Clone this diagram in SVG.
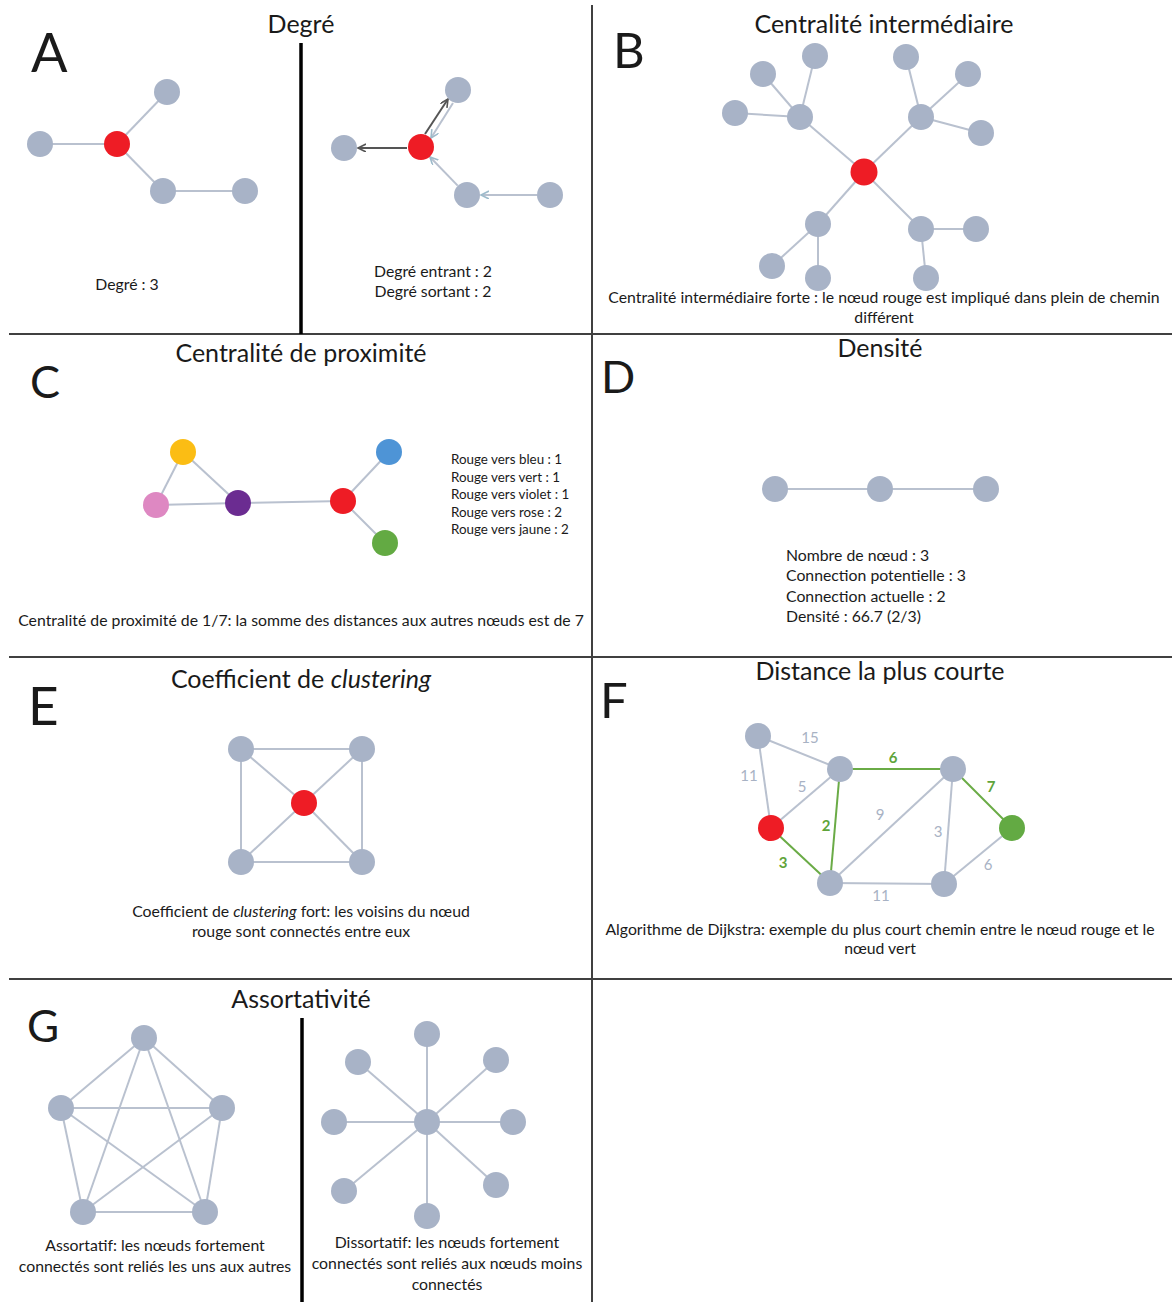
<svg xmlns="http://www.w3.org/2000/svg" width="1172" height="1302" viewBox="0 0 1172 1302">
<style>
text{font-family:Lato,"Liberation Sans",sans-serif;fill:#1a1a1a}
.big{font-weight:400}
.ttl{font-size:25px;text-anchor:middle}
.cap{font-size:15.8px;text-anchor:middle}
.lst{font-size:13.4px}
.lst2{font-size:15.8px}
.n{fill:#A8B3C7}
.red{fill:#EE1C25}
.e{stroke:#B9C1CF;stroke-width:2;fill:none}
.g{stroke:#6AAB46;stroke-width:2;fill:none}
.dk{stroke:#555;stroke-width:2;fill:none}
.div{stroke:#404040;stroke-width:2}
.mid{stroke:#000;stroke-width:3.5}
.wl{font-size:15px;text-anchor:middle;fill:#A8B2C4}
.wg{font-size:15px;text-anchor:middle;fill:#5FA43A;font-weight:bold}
</style>
<defs>
<marker id="ad" markerUnits="userSpaceOnUse" markerWidth="10" markerHeight="10" refX="8" refY="4" orient="auto"><path d="M0,0 L8,4 L0,8" fill="none" stroke="#555" stroke-width="1.6"/></marker>
<marker id="al" markerUnits="userSpaceOnUse" markerWidth="10" markerHeight="10" refX="8" refY="4" orient="auto"><path d="M0,0 L8,4 L0,8" fill="none" stroke="#9DBBCB" stroke-width="1.6"/></marker>
</defs>
<rect width="1172" height="1302" fill="#fff"/>

<g id="grid">
<line class="div" x1="9" y1="334" x2="1172" y2="334"/>
<line class="div" x1="9" y1="657" x2="1172" y2="657"/>
<line class="div" x1="9" y1="979" x2="1172" y2="979"/>
<line class="div" x1="592" y1="5" x2="592" y2="1302"/>
<line class="mid" x1="301" y1="43" x2="301" y2="334"/>
<line class="mid" x1="302" y1="1018" x2="302" y2="1302"/>
</g>

<g id="connectors">
<line class="e" x1="40" y1="144" x2="117" y2="144"/>
<line class="e" x1="117" y1="144" x2="167" y2="92"/>
<line class="e" x1="117" y1="144" x2="163" y2="191"/>
<line class="e" x1="163" y1="191" x2="245" y2="191"/>
<line class="dk" x1="407" y1="148" x2="358" y2="148" marker-end="url(#ad)"/>
<line class="dk" x1="425" y1="134" x2="448" y2="99" marker-end="url(#ad)"/>
<line class="e" x1="453" y1="103" x2="431" y2="138" marker-end="url(#al)"/>
<line class="e" x1="457.7" y1="185.6" x2="430" y2="157" marker-end="url(#al)"/>
<line class="e" x1="537" y1="195" x2="481" y2="195" marker-end="url(#al)"/>
<line class="e" x1="864" y1="172" x2="800" y2="117"/>
<line class="e" x1="864" y1="172" x2="921" y2="117"/>
<line class="e" x1="864" y1="172" x2="818" y2="224"/>
<line class="e" x1="864" y1="172" x2="921" y2="229"/>
<line class="e" x1="800" y1="117" x2="815" y2="56"/>
<line class="e" x1="800" y1="117" x2="763" y2="74"/>
<line class="e" x1="800" y1="117" x2="735" y2="113"/>
<line class="e" x1="921" y1="117" x2="906" y2="57"/>
<line class="e" x1="921" y1="117" x2="968" y2="74"/>
<line class="e" x1="921" y1="117" x2="981" y2="133"/>
<line class="e" x1="818" y1="224" x2="772" y2="266"/>
<line class="e" x1="818" y1="224" x2="818" y2="278"/>
<line class="e" x1="921" y1="229" x2="976" y2="229"/>
<line class="e" x1="921" y1="229" x2="926" y2="278"/>
<line class="e" x1="183" y1="452" x2="156" y2="505"/>
<line class="e" x1="183" y1="452" x2="238" y2="503"/>
<line class="e" x1="156" y1="505" x2="238" y2="503"/>
<line class="e" x1="238" y1="503" x2="343" y2="501"/>
<line class="e" x1="343" y1="501" x2="389" y2="452"/>
<line class="e" x1="343" y1="501" x2="385" y2="543"/>
<line class="e" x1="775" y1="489" x2="880" y2="489"/>
<line class="e" x1="880" y1="489" x2="986" y2="489"/>
<line class="e" x1="241" y1="749" x2="362" y2="749"/>
<line class="e" x1="362" y1="749" x2="362" y2="862"/>
<line class="e" x1="362" y1="862" x2="241" y2="862"/>
<line class="e" x1="241" y1="862" x2="241" y2="749"/>
<line class="e" x1="304" y1="803" x2="241" y2="749"/>
<line class="e" x1="304" y1="803" x2="362" y2="749"/>
<line class="e" x1="304" y1="803" x2="241" y2="862"/>
<line class="e" x1="304" y1="803" x2="362" y2="862"/>
<line class="e" x1="758" y1="736" x2="840" y2="769"/>
<line class="e" x1="758" y1="736" x2="771" y2="828"/>
<line class="e" x1="771" y1="828" x2="840" y2="769"/>
<line class="g" x1="840" y1="769" x2="953" y2="769"/>
<line class="g" x1="840" y1="769" x2="830" y2="883"/>
<line class="g" x1="771" y1="828" x2="830" y2="883"/>
<line class="e" x1="830" y1="883" x2="953" y2="769"/>
<line class="e" x1="953" y1="769" x2="944" y2="884"/>
<line class="g" x1="953" y1="769" x2="1012" y2="828"/>
<line class="e" x1="944" y1="884" x2="1012" y2="828"/>
<line class="e" x1="830" y1="883" x2="944" y2="884"/>
<line class="e" x1="144" y1="1038" x2="61" y2="1108"/>
<line class="e" x1="144" y1="1038" x2="222" y2="1108"/>
<line class="e" x1="144" y1="1038" x2="83" y2="1212"/>
<line class="e" x1="144" y1="1038" x2="205" y2="1212"/>
<line class="e" x1="61" y1="1108" x2="222" y2="1108"/>
<line class="e" x1="61" y1="1108" x2="83" y2="1212"/>
<line class="e" x1="61" y1="1108" x2="205" y2="1212"/>
<line class="e" x1="222" y1="1108" x2="83" y2="1212"/>
<line class="e" x1="222" y1="1108" x2="205" y2="1212"/>
<line class="e" x1="83" y1="1212" x2="205" y2="1212"/>
<line class="e" x1="427" y1="1122" x2="427" y2="1034"/>
<line class="e" x1="427" y1="1122" x2="358" y2="1062"/>
<line class="e" x1="427" y1="1122" x2="496" y2="1060"/>
<line class="e" x1="427" y1="1122" x2="334" y2="1122"/>
<line class="e" x1="427" y1="1122" x2="513" y2="1122"/>
<line class="e" x1="427" y1="1122" x2="344" y2="1191"/>
<line class="e" x1="427" y1="1122" x2="496" y2="1185"/>
<line class="e" x1="427" y1="1122" x2="427" y2="1216"/>
</g>

<g id="panelA">
<text class="big" x="31" y="72" font-size="54">A</text>
<text class="ttl" x="301" y="33">Degré</text>
<text class="cap" x="127" y="290">Degré : 3</text>
<text class="cap" x="433" y="277">Degré entrant : 2</text>
<text class="cap" x="433" y="297">Degré sortant : 2</text>
</g>
<g id="a1"><circle class="n" cx="40" cy="144" r="13"/></g>
<g id="a2"><circle class="red" cx="117" cy="144" r="13"/></g>
<g id="a3"><circle class="n" cx="167" cy="92" r="13"/></g>
<g id="a4"><circle class="n" cx="163" cy="191" r="13"/></g>
<g id="a5"><circle class="n" cx="245" cy="191" r="13"/></g>
<g id="a6"><circle class="n" cx="344" cy="148" r="13"/></g>
<g id="a7"><circle class="red" cx="421" cy="147" r="13"/></g>
<g id="a8"><circle class="n" cx="458" cy="90" r="13"/></g>
<g id="a9"><circle class="n" cx="467" cy="195" r="13"/></g>
<g id="a10"><circle class="n" cx="550" cy="195" r="13"/></g>

<g id="panelB">
<text class="big" x="613" y="68" font-size="49">B</text>
<text class="ttl" x="884" y="33">Centralité intermédiaire</text>
<text class="cap" x="884" y="303">Centralité intermédiaire forte : le nœud rouge est impliqué dans plein de chemin</text>
<text class="cap" x="884" y="323">différent</text>
</g>
<g id="b0"><circle class="red" cx="864" cy="172" r="13.5"/></g>
<g id="b1"><circle class="n" cx="800" cy="117" r="13"/></g>
<g id="b2"><circle class="n" cx="815" cy="56" r="13"/></g>
<g id="b3"><circle class="n" cx="763" cy="74" r="13"/></g>
<g id="b4"><circle class="n" cx="735" cy="113" r="13"/></g>
<g id="b5"><circle class="n" cx="921" cy="117" r="13"/></g>
<g id="b6"><circle class="n" cx="906" cy="57" r="13"/></g>
<g id="b7"><circle class="n" cx="968" cy="74" r="13"/></g>
<g id="b8"><circle class="n" cx="981" cy="133" r="13"/></g>
<g id="b9"><circle class="n" cx="818" cy="224" r="13"/></g>
<g id="b10"><circle class="n" cx="772" cy="266" r="13"/></g>
<g id="b11"><circle class="n" cx="818" cy="278" r="13"/></g>
<g id="b12"><circle class="n" cx="921" cy="229" r="13"/></g>
<g id="b13"><circle class="n" cx="976" cy="229" r="13"/></g>
<g id="b14"><circle class="n" cx="926" cy="278" r="13"/></g>

<g id="panelC">
<text class="big" x="30" y="398" font-size="45">C</text>
<text class="ttl" x="301" y="362">Centralité de proximité</text>
<text class="lst" x="451" y="464">Rouge vers bleu : 1</text>
<text class="lst" x="451" y="482">Rouge vers vert : 1</text>
<text class="lst" x="451" y="499">Rouge vers violet : 1</text>
<text class="lst" x="451" y="517">Rouge vers rose : 2</text>
<text class="lst" x="451" y="534">Rouge vers jaune : 2</text>
<text class="cap" x="301" y="626">Centralité de proximité de 1/7: la somme des distances aux autres nœuds est de 7</text>
</g>
<g id="c-jaune"><circle cx="183" cy="452" r="13" fill="#FBBD14"/></g>
<g id="c-rose"><circle cx="156" cy="505" r="13" fill="#DE88C2"/></g>
<g id="c-violet"><circle cx="238" cy="503" r="13" fill="#6B2C91"/></g>
<g id="c-rouge"><circle class="red" cx="343" cy="501" r="13"/></g>
<g id="c-bleu"><circle cx="389" cy="452" r="13" fill="#4E94D6"/></g>
<g id="c-vert"><circle cx="385" cy="543" r="13" fill="#63AA43"/></g>

<g id="panelD">
<text class="big" x="601" y="393" font-size="45">D</text>
<text class="ttl" x="880" y="357">Densité</text>
<text class="lst2" x="786" y="561">Nombre de nœud : 3</text>
<text class="lst2" x="786" y="581">Connection potentielle : 3</text>
<text class="lst2" x="786" y="602">Connection actuelle : 2</text>
<text class="lst2" x="786" y="622">Densité : 66.7 (2/3)</text>
</g>
<g id="d1"><circle class="n" cx="775" cy="489" r="13"/></g>
<g id="d2"><circle class="n" cx="880" cy="489" r="13"/></g>
<g id="d3"><circle class="n" cx="986" cy="489" r="13"/></g>

<g id="panelE">
<text class="big" x="28" y="725" font-size="53">E</text>
<text class="ttl" x="301" y="688">Coefficient de <tspan font-style="italic">clustering</tspan></text>
<text class="cap" x="301" y="917">Coefficient de <tspan font-style="italic">clustering</tspan> fort: les voisins du nœud</text>
<text class="cap" x="301" y="937">rouge sont connectés entre eux</text>
</g>
<g id="e1"><circle class="n" cx="241" cy="749" r="13"/></g>
<g id="e2"><circle class="n" cx="362" cy="749" r="13"/></g>
<g id="e3"><circle class="red" cx="304" cy="803" r="13"/></g>
<g id="e4"><circle class="n" cx="241" cy="862" r="13"/></g>
<g id="e5"><circle class="n" cx="362" cy="862" r="13"/></g>

<g id="panelF">
<text class="big" x="600" y="718" font-size="49">F</text>
<text class="ttl" x="880" y="680">Distance la plus courte</text>
<text class="wl" x="810" y="743">15</text>
<text class="wg" x="893" y="763">6</text>
<text class="wl" x="749" y="781">11</text>
<text class="wl" x="802" y="792">5</text>
<text class="wg" x="991" y="792">7</text>
<text class="wl" x="880" y="820">9</text>
<text class="wg" x="826" y="831">2</text>
<text class="wl" x="938" y="837">3</text>
<text class="wg" x="783" y="868">3</text>
<text class="wl" x="988" y="870">6</text>
<text class="wl" x="881" y="901">11</text>
<text class="cap" x="880" y="935">Algorithme de Dijkstra: exemple du plus court chemin entre le nœud rouge et le</text>
<text class="cap" x="880" y="954">nœud vert</text>
</g>
<g id="f1"><circle class="n" cx="758" cy="736" r="13"/></g>
<g id="f2"><circle class="n" cx="840" cy="769" r="13"/></g>
<g id="f3"><circle class="n" cx="953" cy="769" r="13"/></g>
<g id="f-rouge"><circle class="red" cx="771" cy="828" r="13"/></g>
<g id="f-vert"><circle cx="1012" cy="828" r="13" fill="#63AA43"/></g>
<g id="f4"><circle class="n" cx="830" cy="883" r="13"/></g>
<g id="f5"><circle class="n" cx="944" cy="884" r="13"/></g>

<g id="panelG">
<text class="big" x="27" y="1042" font-size="44">G</text>
<text class="ttl" x="301" y="1008">Assortativité</text>
<text class="cap" x="155" y="1251">Assortatif: les nœuds fortement</text>
<text class="cap" x="155" y="1272">connectés sont reliés les uns aux autres</text>
<text class="cap" x="447" y="1248">Dissortatif: les nœuds fortement</text>
<text class="cap" x="447" y="1269">connectés sont reliés aux nœuds moins</text>
<text class="cap" x="447" y="1290">connectés</text>
</g>
<g id="g1"><circle class="n" cx="144" cy="1038" r="13"/></g>
<g id="g2"><circle class="n" cx="61" cy="1108" r="13"/></g>
<g id="g3"><circle class="n" cx="222" cy="1108" r="13"/></g>
<g id="g4"><circle class="n" cx="83" cy="1212" r="13"/></g>
<g id="g5"><circle class="n" cx="205" cy="1212" r="13"/></g>
<g id="h0"><circle class="n" cx="427" cy="1122" r="13"/></g>
<g id="h1"><circle class="n" cx="427" cy="1034" r="13"/></g>
<g id="h2"><circle class="n" cx="358" cy="1062" r="13"/></g>
<g id="h3"><circle class="n" cx="496" cy="1060" r="13"/></g>
<g id="h4"><circle class="n" cx="334" cy="1122" r="13"/></g>
<g id="h5"><circle class="n" cx="513" cy="1122" r="13"/></g>
<g id="h6"><circle class="n" cx="344" cy="1191" r="13"/></g>
<g id="h7"><circle class="n" cx="496" cy="1185" r="13"/></g>
<g id="h8"><circle class="n" cx="427" cy="1216" r="13"/></g>
</svg>
